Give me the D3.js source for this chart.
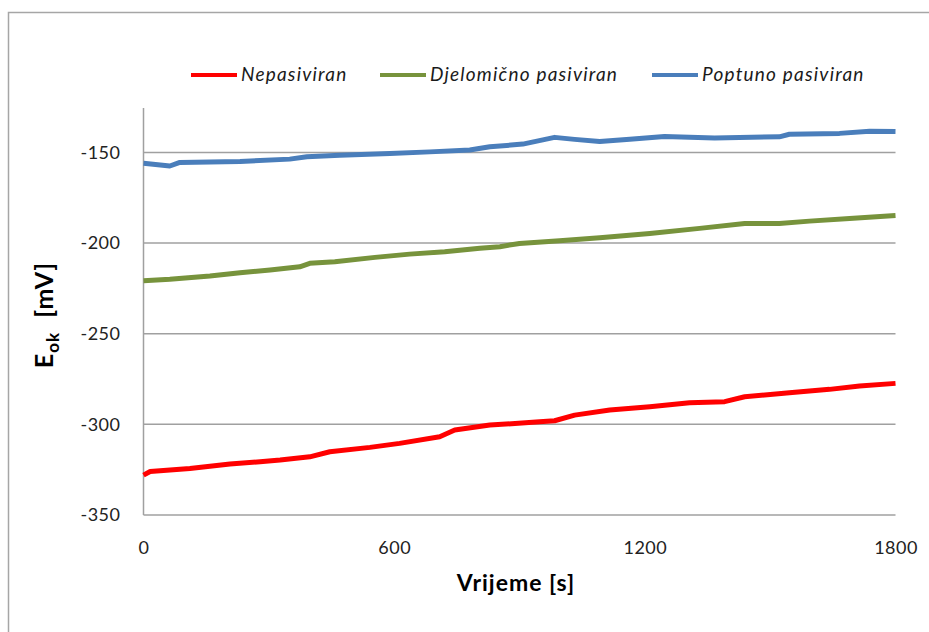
<!DOCTYPE html>
<html>
<head>
<meta charset="utf-8">
<script src="https://cdn.jsdelivr.net/npm/d3@7"></script>
<style>
  body { margin: 0; background: #fff; }
  svg { display: block; font-family: Lato, "Open Sans", sans-serif; }
</style>
</head>
<body>
<div class="svg-container"></div>
<script>
// series names + colours (legend order)
let seriesNames = ["Nepasiviran", "Djelomično pasiviran", "Poptuno pasiviran"];
let seriesColors = ["#ff0000", "#77933c", "#4a7ebb"];

// time [s] / potential [mV]
let nepasiviranT = [0, 16, 111, 207, 279, 327, 398, 446, 542, 613, 709, 745, 829, 948, 984, 1032, 1116, 1212, 1307, 1391, 1439, 1546, 1642, 1714, 1800];
let nepasiviranE = [-328, -326, -324.3, -321.9, -320.6, -319.7, -317.9, -315.1, -312.7, -310.5, -306.8, -303.1, -300.4, -298.6, -298, -294.9, -292.1, -290.3, -288.1, -287.5, -284.8, -282.6, -280.7, -278.9, -277.4];

let djelomicnoT = [0, 63, 159, 231, 303, 374, 398, 458, 554, 637, 721, 805, 853, 900, 996, 1092, 1212, 1331, 1439, 1522, 1594, 1690, 1800];
let djelomicnoE = [-220.8, -220, -218.2, -216.4, -214.9, -213.1, -211.2, -210.3, -207.9, -206.1, -204.8, -202.9, -202, -200.2, -198.7, -197.1, -194.7, -191.9, -189.2, -189.2, -187.9, -186.4, -184.8];

let poptunoT = [0, 63, 87, 231, 350, 391, 470, 590, 685, 781, 829, 908, 984, 1032, 1092, 1164, 1247, 1367, 1522, 1546, 1666, 1738, 1800];
let poptunoE = [-156, -157.5, -155.5, -155, -153.7, -152.4, -151.5, -150.6, -149.7, -148.7, -146.9, -145.4, -141.7, -142.8, -144, -142.7, -141.2, -142, -141.4, -140, -139.5, -138.3, -138.5];

let xTicks = [0, 600, 1200, 1800];
let yTicks = [-350, -300, -250, -200, -150];

let width = 929;
let height = 632;

let svg = d3.select(".svg-container")
    .append("svg")
    .attr("width", width)
    .attr("height", height);

// outer chart frame (runs off the right / bottom of the picture)
svg.append("rect")
    .attr("x", 8.5).attr("y", 12.5)
    .attr("width", 940).attr("height", 640)
    .attr("fill", "none")
    .attr("stroke", "#a6a6a6")
    .attr("stroke-width", 1.5);

let x = d3.scaleLinear().domain([0, 1800]).range([143.5, 895.5]);
let y = d3.scaleLinear().domain([-350, -125.5]).range([515, 108]);

// horizontal gridlines
svg.append("g")
    .selectAll("line")
    .data(yTicks)
    .enter()
    .append("line")
    .attr("x1", x(0)).attr("x2", x(1800))
    .attr("y1", d => y(d)).attr("y2", d => y(d))
    .attr("stroke", "#a0a0a0")
    .attr("stroke-width", 1.5);

// y axis line
svg.append("line")
    .attr("x1", x(0)).attr("x2", x(0))
    .attr("y1", y(-125.5)).attr("y2", y(-350))
    .attr("stroke", "#a0a0a0")
    .attr("stroke-width", 1.5);

// tick labels via d3 axes, domain/ticks hidden (plain hyphen, not unicode minus)
let plain = d => String(d);
let yAxis = svg.append("g")
    .attr("transform", "translate(" + x(0) + ",0)")
    .call(d3.axisLeft(y).tickValues(yTicks).tickSize(0).tickPadding(23).tickFormat(plain));
let xAxis = svg.append("g")
    .attr("transform", "translate(0," + y(-350) + ")")
    .call(d3.axisBottom(x).tickValues(xTicks).tickSize(0).tickPadding(26).tickFormat(plain));
[yAxis, xAxis].forEach(a => {
    a.select(".domain").remove();
    a.selectAll("text")
        .attr("fill", "#222")
        .style("font-family", "Lato, sans-serif")
        .style("font-size", "18px")
        .style("letter-spacing", "0.5px");
});

// the three series
let series = [
    {t: nepasiviranT, e: nepasiviranE},
    {t: djelomicnoT, e: djelomicnoE},
    {t: poptunoT, e: poptunoE}
];

let line = d3.line()
    .x(d => x(d[0]))
    .y(d => y(d[1]));

svg.append("g")
    .selectAll("path")
    .data(series)
    .enter()
    .append("path")
    .attr("d", d => line(d.t.map((t, i) => [t, d.e[i]])))
    .attr("fill", "none")
    .attr("stroke", (d, i) => seriesColors[i])
    .attr("stroke-width", 5)
    .attr("stroke-linejoin", "round");

// legend
let legendX = [191, 380, 652];
let legend = svg.append("g")
    .selectAll("g")
    .data(seriesNames)
    .enter()
    .append("g")
    .attr("transform", (d, i) => "translate(" + legendX[i] + ",75)");
legend.append("line")
    .attr("x1", 0).attr("x2", 46)
    .attr("stroke", (d, i) => seriesColors[i])
    .attr("stroke-width", 4);
legend.append("text")
    .attr("x", 50).attr("y", 6)
    .text(d => d)
    .attr("fill", "#1a1a1a")
    .style("font-style", "italic")
    .style("font-size", "19px")
    .style("letter-spacing", "1.2px");

// axis titles
svg.append("text")
    .attr("x", 516).attr("y", 591)
    .attr("text-anchor", "middle")
    .style("font-weight", "bold")
    .style("font-size", "23px")
    .style("letter-spacing", "1px")
    .text("Vrijeme [s]");

let yTitle = svg.append("text")
    .attr("transform", "translate(53,315) rotate(-90)")
    .attr("text-anchor", "middle")
    .attr("xml:space", "preserve")
    .style("font-weight", "bold")
    .style("font-size", "25px")
    .style("letter-spacing", "1px");
yTitle.append("tspan").text("E");
yTitle.append("tspan").attr("dy", 6).style("font-size", "17px").text("ok");
yTitle.append("tspan").attr("dy", -6).text("  [mV]");
</script>
</body>
</html>
